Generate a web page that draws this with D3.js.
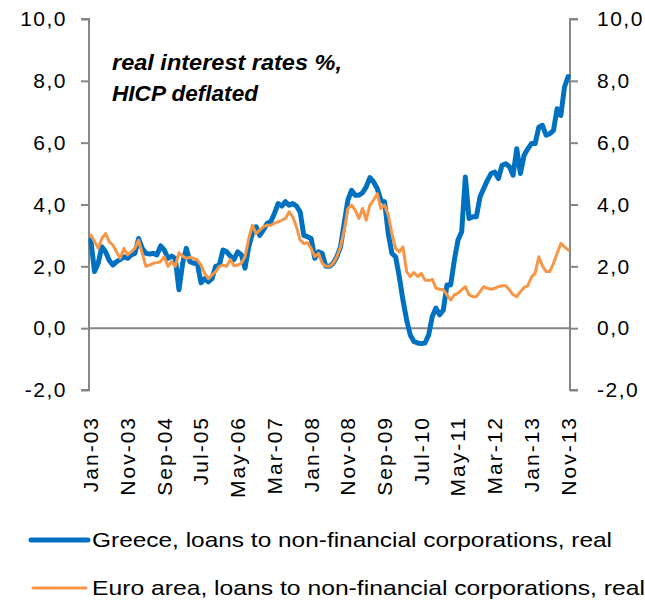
<!DOCTYPE html>
<html>
<head>
<meta charset="utf-8">
<script src="https://cdn.jsdelivr.net/npm/d3@7"></script>
<style>
  html, body { margin: 0; padding: 0; background: #fff; }
  svg { display: block; font-family: "Liberation Sans", "DejaVu Sans", sans-serif; }
</style>
</head>
<body>
<svg id="chart" width="645" height="605"></svg>
<script>
// Monthly real interest rates (HICP deflated), Jan 2003 – Nov 2013
const startMonth = "Jan-03";
const endMonth = "Nov-13";

const greece = [
  2.85, 1.83, 2.10, 2.63, 2.47, 2.20, 2.04, 2.15, 2.22, 2.31,
  2.26, 2.37, 2.42, 2.90, 2.58, 2.42, 2.40, 2.42, 2.37, 2.66,
  2.53, 2.26, 2.33, 2.26, 1.24, 2.10, 2.58, 2.15, 2.10, 2.10,
  1.47, 1.60, 1.50, 1.60, 2.00, 2.04, 2.53, 2.47, 2.33, 2.22,
  2.47, 2.37, 1.94, 2.63, 3.06, 3.28, 3.00, 3.17, 3.39, 3.44,
  3.71, 4.03, 3.95, 4.09, 3.98, 4.03, 3.95, 3.76, 3.00, 2.96,
  2.90, 2.26, 2.47, 2.42, 2.00, 2.00, 2.10, 2.31, 2.63, 3.39,
  4.14, 4.46, 4.30, 4.30, 4.38, 4.57, 4.87, 4.73, 4.52, 4.14,
  4.09, 3.06, 2.42, 2.31, 1.67, 0.91, 0.27, -0.22, -0.43, -0.48,
  -0.50, -0.48, -0.22, 0.38, 0.65, 0.43, 0.59, 1.40, 1.40, 2.20,
  2.85, 3.12, 4.89, 3.55, 3.60, 3.60, 4.25, 4.52, 4.78, 5.00,
  5.05, 4.84, 5.27, 5.32, 5.22, 4.95, 5.80, 5.00, 5.59, 5.80,
  5.97, 5.97, 6.50, 6.56, 6.24, 6.29, 6.40, 7.10, 6.88, 7.80,
  8.14
];

const euroArea = [
  3.01, 2.80, 2.58, 2.90, 3.06, 2.80, 2.69, 2.47, 2.26, 2.58,
  2.37, 2.47, 2.58, 2.85, 2.42, 2.00, 2.04, 2.10, 2.12, 2.15,
  2.31, 2.00, 2.15, 2.00, 2.44, 2.33, 2.26, 2.29, 2.26, 2.20,
  2.04, 1.77, 1.60, 1.72, 1.83, 2.00, 2.04, 2.00, 2.22, 2.02,
  2.04, 2.10, 2.31, 2.90, 3.33, 3.06, 3.17, 3.28, 3.33, 3.33,
  3.39, 3.44, 3.49, 3.55, 3.76, 3.60, 3.28, 2.85, 2.74, 2.76,
  2.58, 2.31, 2.42, 2.10, 2.00, 2.00, 2.10, 2.31, 2.63, 3.17,
  3.87, 3.98, 3.82, 3.55, 3.87, 3.49, 3.98, 4.14, 4.35, 3.87,
  3.98, 3.66, 3.06, 2.58, 2.47, 2.63, 1.83, 1.67, 1.80, 1.67,
  1.77, 1.56, 1.54, 1.58, 1.29, 1.26, 1.24, 1.08, 0.91, 1.08,
  1.13, 1.24, 1.34, 1.08, 1.02, 1.02, 1.18, 1.34, 1.29, 1.26,
  1.29, 1.34, 1.37, 1.37, 1.24, 1.08, 1.02, 1.18, 1.32, 1.37,
  1.65, 1.77, 2.31, 2.01, 1.83, 1.83, 2.10, 2.42, 2.74, 2.63,
  2.53
];

const xTickLabels = ["Jan-03", "Nov-03", "Sep-04", "Jul-05", "May-06", "Mar-07", "Jan-08",
                     "Nov-08", "Sep-09", "Jul-10", "May-11", "Mar-12", "Jan-13", "Nov-13"];
const yTicks = [-2, 0, 2, 4, 6, 8, 10];

const seriesNames = ["Greece, loans to non-financial corporations, real",
                     "Euro area, loans to non-financial corporations, real"];
const seriesColors = ["#0070C0", "#F79646"];

const parseMonth = d3.timeParse("%b-%y");
const fmtMonth = d3.timeFormat("%b-%y");
const months = d3.timeMonth.range(parseMonth(startMonth), d3.timeMonth.offset(parseMonth(endMonth), 1));
const monthKeys = months.map(fmtMonth);

const svg = d3.select("#chart");
const plot = { left: 89, right: 570, top: 19, bottom: 390 };

const x = d3.scaleBand().domain(monthKeys).range([plot.left, plot.right]);
const xc = k => x(k) + x.bandwidth() / 2;
const y = d3.scaleLinear().domain([-2, 10]).range([plot.bottom, plot.top]);

const fmtVal = d => d.toFixed(1).replace(".", ",");
const axisGrey = "#868686";

// value axes on both sides
const leftAxis = svg.append("g")
  .attr("transform", `translate(${plot.left},0)`)
  .call(d3.axisLeft(y).tickValues(yTicks).tickSize(8).tickPadding(14).tickFormat(fmtVal));
const rightAxis = svg.append("g")
  .attr("transform", `translate(${plot.right},0)`)
  .call(d3.axisRight(y).tickValues(yTicks).tickSize(8).tickPadding(19).tickFormat(fmtVal));

[leftAxis, rightAxis].forEach(g => {
  g.select(".domain").attr("stroke", axisGrey).attr("stroke-width", 2)
    .attr("d", g === leftAxis
      ? `M-8,${y(10)}H0V${y(-2)}H-8`
      : `M8,${y(10)}H0V${y(-2)}H8`);
  g.selectAll(".tick line").attr("stroke", axisGrey).attr("stroke-width", 2);
  g.selectAll(".tick text").attr("fill", "#000")
    .style("font-size", "21px").style("letter-spacing", "1.5px");
});

// zero line (category axis)
svg.append("line")
  .attr("x1", plot.left).attr("x2", plot.right)
  .attr("y1", y(0)).attr("y2", y(0))
  .attr("stroke", axisGrey).attr("stroke-width", 2);

// rotated month labels
const bottomAxis = svg.append("g")
  .attr("transform", `translate(0,${plot.bottom})`)
  .call(d3.axisBottom(x).tickValues(xTickLabels).tickSize(0).tickPadding(0));
bottomAxis.select(".domain").remove();
bottomAxis.selectAll(".tick text")
  .attr("fill", "#000")
  .style("font-size", "21px")
  .style("letter-spacing", "2px")
  .attr("text-anchor", "end")
  .attr("transform", "rotate(-90)")
  .attr("x", -26)
  .attr("y", 0)
  .attr("dy", "0.35em");

// series lines
const line = d3.line().x((d, i) => xc(monthKeys[i])).y(d => y(d)).curve(d3.curveLinear);
svg.append("path").datum(greece)
  .attr("fill", "none").attr("stroke", seriesColors[0]).attr("stroke-width", 5)
  .attr("stroke-linejoin", "round").attr("stroke-linecap", "round")
  .attr("d", line);
svg.append("path").datum(euroArea)
  .attr("fill", "none").attr("stroke", seriesColors[1]).attr("stroke-width", 3)
  .attr("stroke-linejoin", "round").attr("stroke-linecap", "round")
  .attr("d", line);

// annotation
const note = svg.append("g").style("font-weight", "bold").style("font-style", "italic").style("font-size", "22px");
note.append("text").attr("x", 112).attr("y", 70).attr("textLength", 230).attr("lengthAdjust", "spacingAndGlyphs")
  .text("real  interest rates %,");
note.append("text").attr("x", 112).attr("y", 101).attr("textLength", 146).attr("lengthAdjust", "spacingAndGlyphs")
  .text("HICP deflated");

// legend
const legend = svg.append("g");
const legendRows = [
  { y: 540, w: 5, x1: 31, x2: 88, len: 520 },
  { y: 588, w: 3, x1: 33, x2: 86, len: 553 }
];
legendRows.forEach((r, i) => {
  legend.append("line").attr("x1", r.x1).attr("x2", r.x2).attr("y1", r.y).attr("y2", r.y)
    .attr("stroke", seriesColors[i]).attr("stroke-width", r.w).attr("stroke-linecap", "round");
  legend.append("text").attr("x", 92).attr("y", r.y).attr("dy", "0.35em")
    .style("font-size", "21px").attr("fill", "#000")
    .attr("textLength", r.len).attr("lengthAdjust", "spacingAndGlyphs")
    .text(seriesNames[i]);
});
</script>
</body>
</html>
